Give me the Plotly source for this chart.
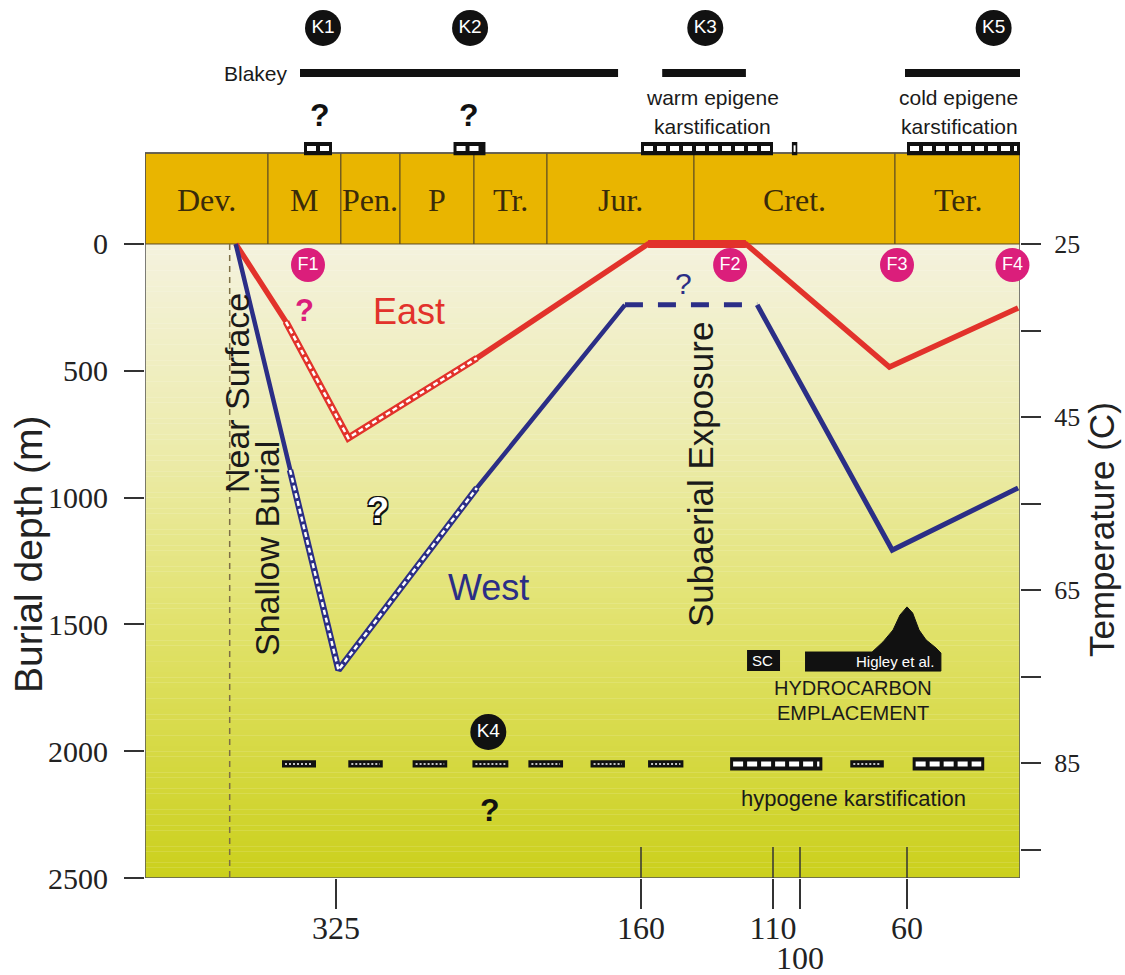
import numpy as np
import plotly.graph_objects as go

# ---------------- DATA ----------------
# Non-linear schematic time scale: anchor ages (Ma) and their positions along the axis
SCALE_AGES = [420, 359, 325, 299, 252, 201, 160, 145, 110, 100, 66, 60, 0]
SCALE_POS = [0, 123, 191, 255, 329, 402, 496, 549, 628, 655, 750, 762, 875]

PERIOD_NAMES = ["Dev.", "M", "Pen.", "P", "Tr.", "Jur.", "Cret.", "Ter."]
PERIOD_BOUNDS = [420, 359, 323, 299, 252, 201, 145, 66, 0]

TICK_AGES = [325, 160, 110, 100, 60]
TICK_TEXT = ["325", "160", "110", "", "60"]
LOWER_TICK_AGE, LOWER_TICK_TEXT = 100, "100"
INNER_TICK_AGES = [160, 110, 100, 60]

DEPTH_TICKS = [0, 500, 1000, 1500, 2000, 2500]
TEMP_TICKS = [25, 35, 45, 55, 65, 75, 85, 95]
TEMP_LABELS = ["25", "", "45", "", "65", "", "85", ""]
SURFACE_T = 25.0
GRADIENT = 0.0293  # degC per m

# Burial curves (age Ma, depth m)
EAST_AGE = [375, 350, 320, 250, 158, 122, 68, 1]
EAST_DEPTH = [0, 307, 765, 450, 0, 0, 485, 252]
WEST_AGE = [375, 348, 324, 250, 167, 117, 67, 1]
WEST_DEPTH = [0, 891, 1680, 962, 240, 240, 1207, 962]

# Karstification events
K_LABELS = ["K1", "K2", "K3", "K5"]
K_AGES = [331.5, 254.5, 140, 14]
BLAKEY_BARS = [(343, 170), (154, 122), (61, 0)]
TOP_BOXES = [(341, 327), (265, 244), (160, 110), (103, 101), (60, 0)]
QUESTION_AGES = [333, 255]

HYPO_SMALL = [(352, 335), (320, 306), (291, 269), (253, 228), (214, 194),
              (182, 167), (158, 148), (82, 70)]
HYPO_BIG = [(129, 92), (57, 19)]
HYPO_DEPTH = 2050

# Fluid events
F_LABELS = ["F1", "F2", "F3", "F4"]
F_AGES = [339, 129, 65, 4]
F_DEPTH = 83

# Hydrocarbon emplacement
SC_AGES = (121.5, 107.4)
SC_DEPTHS = (1601, 1684)
HIGLEY_AGE = [98.2, 74.2, 70.3, 66.7, 63.5, 60, 57, 53.6, 49.9, 44.6, 42, 42, 98.2]
HIGLEY_DEPTH = [1609, 1609, 1569, 1522, 1463, 1431, 1455, 1522, 1561, 1593, 1613, 1684, 1684]

NEAR_SURFACE_AGE = 378

# ---------------- HELPERS ----------------
def tx(age):
    return np.interp(-np.asarray(age, dtype=float), -np.asarray(SCALE_AGES, dtype=float), SCALE_POS)

def temp(depth):
    return SURFACE_T + GRADIENT * depth

DEPTH_TOP = -962      # top of figure, in depth-axis units
BAND_TOP = -359       # top of the stratigraphic column band
K_ROW, BAR_ROW, Q_ROW, BOX_ROW = -852, -674, -509, -376

SANS = "Liberation Sans, Arial, sans-serif"
SERIF = "Liberation Serif, Times New Roman, serif"
RED = "#E2322B"
NAVY = "#2B2E86"
MAGENTA = "#DB1E7B"
GOLD = "#E9B500"

X0, X1 = float(tx(420)), float(tx(0))

fig = go.Figure()
shapes = []
ann = []

# background gradient below the surface
stops = [(0.0, (244, 242, 222)), (0.3, (237, 236, 176)), (0.6, (225, 226, 108)), (1.0, (203, 208, 28))]
def grad_color(f):
    for (a, ca), (b, cb) in zip(stops[:-1], stops[1:]):
        if a <= f <= b:
            t = (f - a) / (b - a)
            c = [round(ca[i] + t * (cb[i] - ca[i])) for i in range(3)]
            return "rgb(%d,%d,%d)" % tuple(c)
    return "rgb(%d,%d,%d)" % stops[-1][1]

N = 120
for i in range(N):
    d0 = 2500 * i / N
    d1 = 2500 * (i + 1) / N + 1
    shapes.append(dict(type="rect", xref="x", yref="y", x0=X0, x1=X1, y0=d0, y1=min(d1, 2500),
                       fillcolor=grad_color((i + 0.5) / N), line_width=0, layer="below"))

# stratigraphic band
for name, a0, a1 in zip(PERIOD_NAMES, PERIOD_BOUNDS[:-1], PERIOD_BOUNDS[1:]):
    shapes.append(dict(type="rect", xref="x", yref="y", x0=float(tx(a0)), x1=float(tx(a1)),
                       y0=BAND_TOP, y1=0, fillcolor=GOLD, line=dict(color="#5b4a22", width=1), layer="below"))
    ann.append(dict(x=float((tx(a0) + tx(a1)) / 2), y=-175, xref="x", yref="y", text=name, showarrow=False,
                    font=dict(family=SERIF, size=32, color="#3a2b0a")))

# frame
shapes.append(dict(type="rect", xref="x", yref="y", x0=X0, x1=X1, y0=BAND_TOP, y1=2500,
                   fillcolor="rgba(0,0,0,0)", line=dict(color="#555555", width=1.5), layer="below"))
# near-surface dashed line
xs = float(tx(NEAR_SURFACE_AGE))
shapes.append(dict(type="line", xref="x", yref="y", x0=xs, x1=xs, y0=0, y1=2500,
                   line=dict(color="#7d6f45", width=1.5, dash="6px,5px"), layer="below"))
# inner tick marks
for a in INNER_TICK_AGES:
    xa = float(tx(a))
    shapes.append(dict(type="line", xref="x", yref="y", x0=xa, x1=xa, y0=2378, y1=2500,
                       line=dict(color="#333333", width=1.5), layer="below"))

# dashed boxes
def dashed_box(a0, a1, yc, h, wdash, dash):
    x0, x1 = float(tx(a0)), float(tx(a1))
    shapes.append(dict(type="rect", xref="x", yref="y", x0=x0, x1=x1, y0=yc - h / 2, y1=yc + h / 2,
                       fillcolor="#111111", line_width=0, layer="above"))
    if x1 - x0 > 7:
        shapes.append(dict(type="line", xref="x", yref="y", x0=x0 + 3, x1=x1 - 3, y0=yc, y1=yc,
                           line=dict(color="white", width=wdash, dash=dash), layer="above"))
    else:
        shapes.append(dict(type="line", xref="x", yref="y", x0=(x0 + x1) / 2, x1=(x0 + x1) / 2,
                           y0=yc - h / 4, y1=yc + h / 4, line=dict(color="white", width=2), layer="above"))

for a0, a1 in TOP_BOXES:
    dashed_box(a0, a1, BOX_ROW, 52, 5, "9px,4px")
for a0, a1 in HYPO_SMALL:
    dashed_box(a0, a1, HYPO_DEPTH, 28, 1.5, "2px,2px")
for a0, a1 in HYPO_BIG:
    dashed_box(a0, a1, HYPO_DEPTH, 52, 5, "10px,4px")

# Blakey bars
for a0, a1 in BLAKEY_BARS:
    shapes.append(dict(type="line", xref="x", yref="y", x0=float(tx(a0)), x1=float(tx(a1)), y0=BAR_ROW, y1=BAR_ROW,
                       line=dict(color="#111111", width=8), layer="above"))

# SC box
shapes.append(dict(type="rect", xref="x", yref="y", x0=float(tx(SC_AGES[0])), x1=float(tx(SC_AGES[1])),
                   y0=SC_DEPTHS[0], y1=SC_DEPTHS[1], fillcolor="#111111", line_width=0, layer="above"))

# ---------------- TRACES ----------------
def seg(ages, depths, idx):
    return list(tx([ages[i] for i in idx])), [depths[i] for i in idx]

def line(x, y, color, width, dash="solid"):
    fig.add_trace(go.Scatter(x=x, y=y, mode="lines", line=dict(color=color, width=width, dash=dash),
                             hoverinfo="skip", showlegend=False))

# East
x, y = seg(EAST_AGE, EAST_DEPTH, range(len(EAST_AGE)))
line(x, y, RED, 5.5)
x, y = seg(EAST_AGE, EAST_DEPTH, [4, 5]); line(x, y, RED, 8)
x, y = seg(EAST_AGE, EAST_DEPTH, [1, 2, 3]); line(x, y, RED, 7); line(x, y, "white", 2.5, "5px,3px")
# West
x, y = seg(WEST_AGE, WEST_DEPTH, [0, 1, 2, 3, 4]); line(x, y, NAVY, 4.5)
x, y = seg(WEST_AGE, WEST_DEPTH, [5, 6, 7]); line(x, y, NAVY, 5)
x, y = seg(WEST_AGE, WEST_DEPTH, [4, 5]); line(x, y, NAVY, 5, "18px,15px")
x, y = seg(WEST_AGE, WEST_DEPTH, [1, 2, 3]); line(x, y, NAVY, 6.5); line(x, y, "white", 2.5, "5px,3px")

# Higley et al. hydrocarbon curve
fig.add_trace(go.Scatter(x=list(tx(HIGLEY_AGE)), y=HIGLEY_DEPTH, mode="lines", fill="toself",
                         fillcolor="#111111", line=dict(color="#111111", width=1),
                         hoverinfo="skip", showlegend=False))

# K circles
fig.add_trace(go.Scatter(x=list(tx(K_AGES)), y=[K_ROW] * len(K_AGES), mode="markers+text", text=K_LABELS,
                         textposition="middle center", cliponaxis=False,
                         marker=dict(size=36, color="#111111"),
                         textfont=dict(family=SANS, size=19, color="white"), hoverinfo="skip", showlegend=False))
fig.add_trace(go.Scatter(x=list(tx([242])), y=[1924], mode="markers+text", text=["K4"],
                         textposition="middle center", cliponaxis=False,
                         marker=dict(size=36, color="#111111"),
                         textfont=dict(family=SANS, size=19, color="white"), hoverinfo="skip", showlegend=False))
# F circles
fig.add_trace(go.Scatter(x=list(tx(F_AGES)), y=[F_DEPTH] * len(F_AGES), mode="markers+text", text=F_LABELS,
                         textposition="middle center", cliponaxis=False,
                         marker=dict(size=34, color=MAGENTA),
                         textfont=dict(family=SANS, size=18, color="white"), hoverinfo="skip", showlegend=False))
# invisible trace for temperature axis
fig.add_trace(go.Scatter(x=[X1], y=[SURFACE_T], yaxis="y2", mode="markers", marker=dict(opacity=0),
                         hoverinfo="skip", showlegend=False))

# ---------------- ANNOTATIONS ----------------
def A(age, depth, text, size, color="#1a1a1a", angle=0, xanchor="center", family=SANS, **kw):
    d = dict(x=float(tx(age)), y=depth, xref="x", yref="y", text=text, showarrow=False, textangle=angle,
             xanchor=xanchor, font=dict(family=family, size=size, color=color))
    d.update(kw)
    ann.append(d)

A(348, BAR_ROW, "Blakey", 21, xanchor="right")
for a in QUESTION_AGES:
    A(a, Q_ROW, "<b>?</b>", 32, color="#111111")
A(136.6, -576, "warm epigene", 21)
A(136.6, -465, "karstification", 21)
A(0, -576, "cold epigene", 21, xanchor="right")
A(0, -465, "karstification", 21, xanchor="right")
A(293, 265, "East", 36, color=RED)
A(242, 1356, "West", 36, color=NAVY)
A(340.8, 262, "<b>?</b>", 31, color=MAGENTA)
A(308, 1049, "<b>?</b>", 36, color="white",
  font=dict(family=SANS, size=36, color="white",
            shadow="1.5px 1.5px 0 #111, -1.5px -1.5px 0 #111, 1.5px -1.5px 0 #111, -1.5px 1.5px 0 #111"))
A(148, 154, "?", 30, color=NAVY)
A(241, 2232, "<b>?</b>", 32, color="#111111")
A(374.4, 588, "Near Surface", 34, angle=-90)
A(359.5, 1199, "Shallow Burial", 34, angle=-90)
A(142.3, 911, "Subaerial Exposure", 35, angle=-90)
A(114.5, 1642, "SC", 15, color="white")
A(66, 1648, "Higley et al.", 15, color="white")
A(81, 1750, "HYDROCARBON", 20)
A(81, 1850, "EMPLACEMENT", 20)
A(81, 2185, "hypogene karstification", 22)

H_PLOT = 878.0
ann.append(dict(x=(28 - 145) / 875, y=(H_PLOT - 555) / H_PLOT, xref="paper", yref="paper", text="Burial depth (m)",
                xanchor="center", yanchor="middle",
                showarrow=False, textangle=-90, font=dict(family=SANS, size=39, color="#222222")))
ann.append(dict(x=(1101 - 145) / 875, y=(H_PLOT - 530) / H_PLOT, xref="paper", yref="paper", text="Temperature (C)",
                xanchor="center", yanchor="middle",
                showarrow=False, textangle=-90, font=dict(family=SANS, size=35, color="#222222")))
# second-row time label (100 Ma sits below 110 Ma)
ann.append(dict(x=float(tx(LOWER_TICK_AGE)), y=(H_PLOT - 958) / H_PLOT, xref="x", yref="paper",
                text=LOWER_TICK_TEXT, showarrow=False, xanchor="center", yanchor="middle",
                font=dict(family=SERIF, size=32, color="#222222")))

fig.update_layout(
    width=1125, height=975,
    margin=dict(l=145, r=105, t=0, b=97, autoexpand=False),
    paper_bgcolor="white", plot_bgcolor="white",
    showlegend=False,
    shapes=shapes, annotations=ann,
    xaxis=dict(range=[X0, X1], showgrid=False, zeroline=False, showline=False, automargin=False,
               tickangle=0, ticklabelstandoff=-8,
               tickvals=list(tx(TICK_AGES)), ticktext=TICK_TEXT, ticks="outside", ticklen=30,
               tickwidth=1.5, tickcolor="#333333", tickfont=dict(family=SERIF, size=32, color="#222222")),
    yaxis=dict(range=[2500, DEPTH_TOP], showgrid=False, zeroline=False, showline=False, automargin=False,
               ticklabelstandoff=10,
               tickvals=DEPTH_TICKS, ticks="outside", ticklen=20, tickwidth=1.5, tickcolor="#333333",
               tickfont=dict(family=SERIF, size=30, color="#222222")),
    yaxis2=dict(overlaying="y", side="right", range=[temp(2500), temp(DEPTH_TOP)], showgrid=False,
                automargin=False, ticklabelstandoff=8,
                zeroline=False, showline=False, tickvals=TEMP_TICKS, ticktext=TEMP_LABELS,
                ticks="outside", ticklen=20, tickwidth=1.5, tickcolor="#333333",
                tickfont=dict(family=SERIF, size=26, color="#222222")),
)

fig.write_html("out.html", config={"displayModeBar": False},
               post_script="document.body.style.margin='0px';")
